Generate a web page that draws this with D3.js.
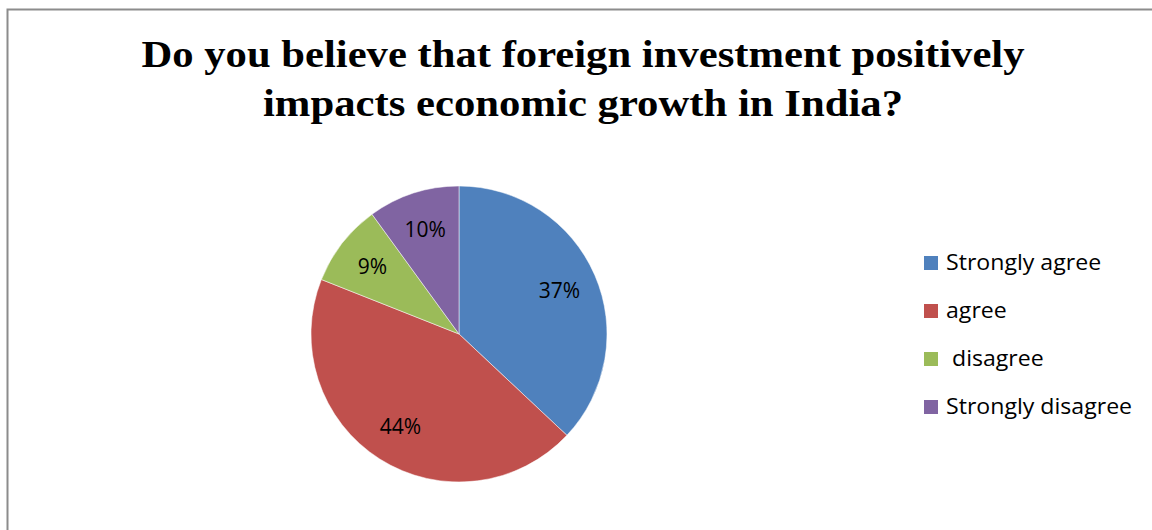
<!DOCTYPE html>
<html>
<head>
<meta charset="utf-8">
<script src="https://cdn.jsdelivr.net/npm/d3@7"></script>
<style>
  body { margin: 0; background: #fff; }
  svg { display: block; }
</style>
</head>
<body>
<svg id="chart" width="1152" height="530"></svg>
<script>
const categories = ["Strongly agree", "agree", " disagree", "Strongly disagree"];
const values = [37, 44, 9, 10];
const colors = ["#4f81bd", "#c0504d", "#9bbb59", "#8064a2"];
const titleLines = ["Do you believe that foreign investment positively", "impacts economic growth in India?"];

const svg = d3.select("#chart");
const [cx, cy, r] = [459, 334, 148];

// chart frame, cut by the window on the right and bottom
svg.append("rect")
  .attr("x", 7.5).attr("y", 9.5)
  .attr("width", 1200).attr("height", 600)
  .attr("fill", "#fff")
  .attr("stroke", "#8c8c8c")
  .attr("stroke-width", 2);

// the source picture is a bit wide, so text gets stretched sideways
const stretch = 1.1;
const titleW = [883, 640];
svg.append("g")
  .selectAll("text")
  .data(titleLines)
  .join("text")
  .attr("x", 583)
  .attr("y", (d, i) => 67 + i * 49)
  .attr("text-anchor", "middle")
  .attr("font-family", "Liberation Serif, Times New Roman, serif")
  .attr("font-weight", "bold")
  .attr("font-size", 37)
  .attr("textLength", (d, i) => titleW[i])
  .attr("lengthAdjust", "spacingAndGlyphs")
  .text(d => d);

let pie = d3.pie().sort(null).value(d => d);
let arcs = pie(values);
let arc = d3.arc().innerRadius(0).outerRadius(r);
let labelArc = d3.arc().innerRadius(r * 0.74).outerRadius(r * 0.74);

let g = svg.append("g").attr("transform", `translate(${cx},${cy})`);
g.selectAll("path")
  .data(arcs)
  .join("path")
  .attr("d", arc)
  .attr("fill", (d, i) => colors[i])
  .attr("stroke", "#fff")
  .attr("stroke-width", 0.5);

g.selectAll("text")
  .data(arcs)
  .join("text")
  .attr("transform", d => `translate(${labelArc.centroid(d)})`)
  .attr("text-anchor", "middle")
  .attr("dy", "0.35em")
  .attr("font-family", "Open Sans, sans-serif")
  .attr("font-size", 21)
  .attr("fill", "#000")
  .text(d => d.data + "%");

let y = d3.scalePoint().domain(categories).range([263, 407]);
let leg = svg.append("g")
  .selectAll("g")
  .data(categories)
  .join("g")
  .attr("transform", d => `translate(924,${y(d)})`);
leg.append("rect")
  .attr("x", 0).attr("y", -7)
  .attr("width", 14).attr("height", 14)
  .attr("fill", (d, i) => colors[i]);
leg.append("text")
  .attr("x", 22)
  .attr("dy", "0.35em")
  .attr("font-family", "Open Sans, sans-serif")
  .attr("font-size", 21)
  .attr("xml:space", "preserve")
  .style("white-space", "pre")
  .text(d => d)
  .each(function () {
    let w = this.getComputedTextLength();
    d3.select(this).attr("textLength", w * stretch).attr("lengthAdjust", "spacingAndGlyphs");
  });
</script>
</body>
</html>
